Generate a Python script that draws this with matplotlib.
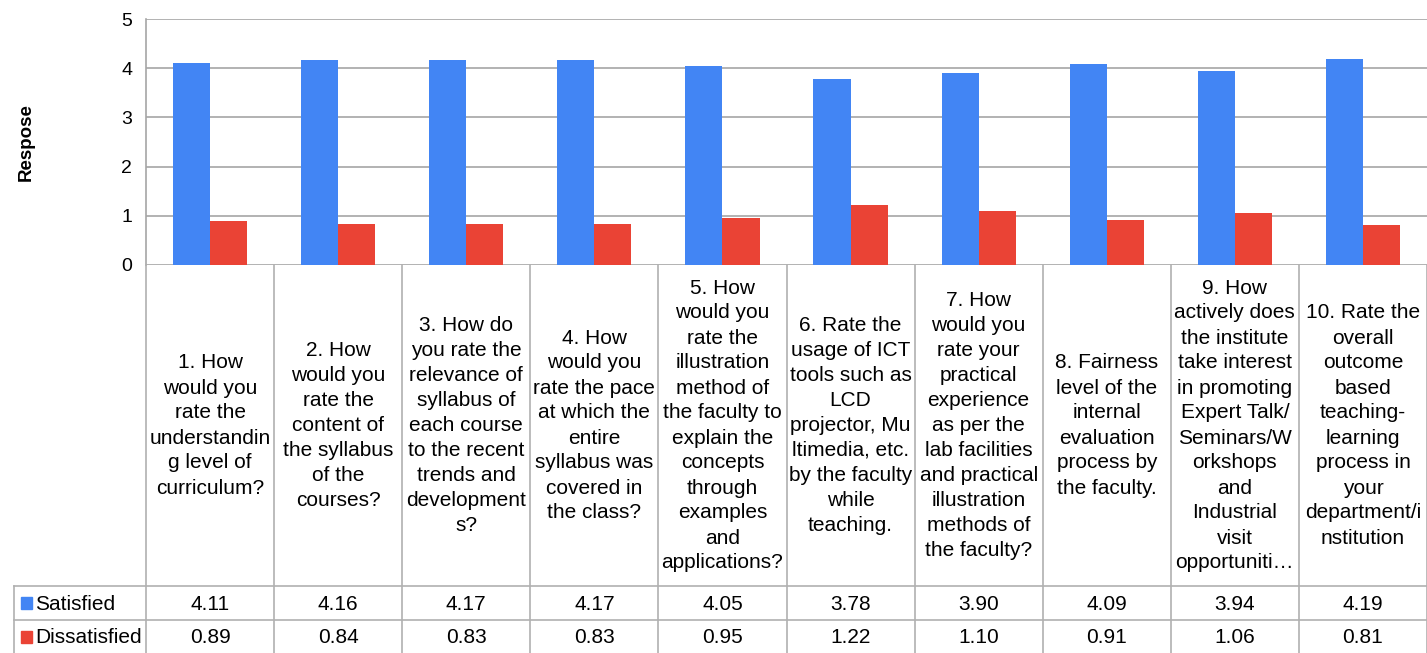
import numpy as np
import matplotlib.pyplot as plt
import matplotlib.patches as mpatches

plt.rcParams['font.family'] = ['Liberation Sans', 'DejaVu Sans']

# Data
questions = [
    "1. How\nwould you\nrate the\nunderstandin\ng level of\ncurriculum?",
    "2. How\nwould you\nrate the\ncontent of\nthe syllabus\nof the\ncourses?",
    "3. How do\nyou rate the\nrelevance of\nsyllabus of\neach course\nto the recent\ntrends and\ndevelopment\ns?",
    "4. How\nwould you\nrate the pace\nat which the\nentire\nsyllabus was\ncovered in\nthe class?",
    "5. How\nwould you\nrate the\nillustration\nmethod of\nthe faculty to\nexplain the\nconcepts\nthrough\nexamples\nand\napplications?",
    "6. Rate the\nusage of ICT\ntools such as\nLCD\nprojector, Mu\nltimedia, etc.\nby the faculty\nwhile\nteaching.",
    "7. How\nwould you\nrate your\npractical\nexperience\nas per the\nlab facilities\nand practical\nillustration\nmethods of\nthe faculty?",
    "8. Fairness\nlevel of the\ninternal\nevaluation\nprocess by\nthe faculty.",
    "9. How\nactively does\nthe institute\ntake interest\nin promoting\nExpert Talk/\nSeminars/W\norkshops\nand\nIndustrial\nvisit\nopportuniti\u2026",
    "10. Rate the\noverall\noutcome\nbased\nteaching-\nlearning\nprocess in\nyour\ndepartment/i\nnstitution",
]
satisfied = [4.11, 4.16, 4.17, 4.17, 4.05, 3.78, 3.90, 4.09, 3.94, 4.19]
dissatisfied = [0.89, 0.84, 0.83, 0.83, 0.95, 1.22, 1.10, 0.91, 1.06, 0.81]
series_names = ['Satisfied', 'Dissatisfied']
colors = ['#4285F4', '#EA4335']

W, H = 1427, 653
fig = plt.figure(figsize=(W / 100, H / 100), dpi=100)

# pixel layout
x0, x1 = 146, 1427
ytop, ybot = 19, 265
ax = fig.add_axes([x0 / W, 1 - ybot / H, (x1 - x0) / W, (ybot - ytop) / H])

n = len(satisfied)
x = np.arange(n)
bw = 0.29
grid_c = '#a6a6a6'
ax.bar(x - bw / 2, satisfied, bw, color=colors[0], zorder=3)
ax.bar(x + bw / 2, dissatisfied, bw, color=colors[1], zorder=3)
ax.set_xlim(-0.5, n - 0.5)
ax.set_ylim(0, 5)
ax.set_yticks(range(6))
ax.tick_params(axis='y', length=0, labelsize=14, pad=10)
ax.set_xticks([])
ax.yaxis.grid(True, color=grid_c, lw=1.2, zorder=0)
for s in ['top', 'right', 'bottom']:
    ax.spines[s].set_visible(False)
ax.spines['left'].set_color(grid_c)
ax.spines['left'].set_linewidth(1.2)
ax.set_ylabel('Respose', fontsize=13.5, fontweight='bold', labelpad=62)

# data table below the plot
tx0 = 14
colw = (x1 - x0) / n
tab = fig.add_axes([tx0 / W, 0, (x1 - tx0) / W, (H - ybot) / H])
left = -0.5 - (x0 - tx0) / colw
tab.set_xlim(left, n - 0.5)
tab.set_ylim(H, ybot)
tab.axis('off')

r1, r2, r3 = 586, 620, 653
lk = dict(color='#b0b0b0', lw=1.2, clip_on=False)
for i in range(n + 1):
    tab.plot([i - 0.5, i - 0.5], [ybot, r3], **lk)
tab.plot([left, left], [r1, r3], **lk)
for yy in [r1, r2]:
    tab.plot([left, n - 0.5], [yy, yy], **lk)

fs = 15
for i, q in enumerate(questions):
    tab.text(i, (ybot + r1) / 2, q, ha='center', va='center', fontsize=fs,
             linespacing=1.4)
    tab.text(i, (r1 + r2) / 2 + 1, f"{satisfied[i]:.2f}", ha='center', va='center', fontsize=fs)
    tab.text(i, (r2 + r3) / 2 + 1, f"{dissatisfied[i]:.2f}", ha='center', va='center', fontsize=fs)

for k, (name, yc) in enumerate(zip(series_names, [(r1 + r2) / 2, (r2 + r3) / 2])):
    px = left + 7 / colw
    tab.add_patch(mpatches.Rectangle((px, yc - 6), 11 / colw, 12, color=colors[k], clip_on=False))
    tab.text(px + 14 / colw, yc + 1, name, ha='left', va='center', fontsize=fs)

fig.savefig('out.png', dpi=100)
